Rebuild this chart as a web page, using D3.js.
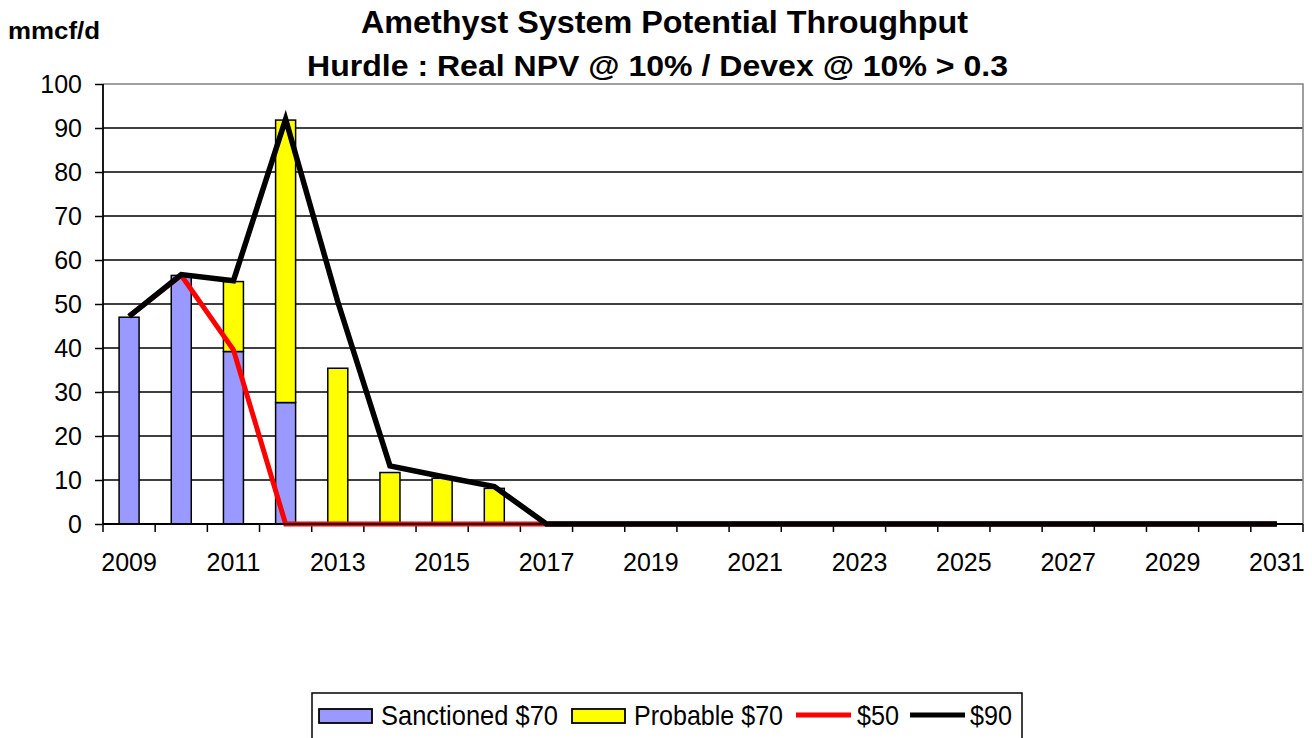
<!DOCTYPE html>
<html>
<head>
<meta charset="utf-8">
<script src="https://cdn.jsdelivr.net/npm/d3@7"></script>
<style>
  html, body { margin: 0; padding: 0; background: #fff; }
  svg { display: block; font-family: Arial, "Liberation Sans", sans-serif; }
</style>
</head>
<body>
<svg id="chart" width="1312" height="738"></svg>
<script>
const years = ["2009","2010","2011","2012","2013","2014","2015","2016","2017","2018","2019","2020","2021","2022","2023","2024","2025","2026","2027","2028","2029","2030","2031"];
const sanctioned70 = [47, 56.5, 39.2, 27.6, 0, 0, 0, 0, 0, 0, 0, 0, 0, 0, 0, 0, 0, 0, 0, 0, 0, 0, 0];
const probable70   = [0, 0, 15.9, 64.2, 35.4, 11.7, 10.4, 8.1, 0, 0, 0, 0, 0, 0, 0, 0, 0, 0, 0, 0, 0, 0, 0];
const price50      = [47.2, 56.5, 39.6, 0, 0, 0, 0, 0, 0, 0, 0, 0, 0, 0, 0, 0, 0, 0, 0, 0, 0, 0, 0];
const price90      = [47.2, 56.7, 55.3, 92, 50.5, 13.2, 10.8, 8.5, 0, 0, 0, 0, 0, 0, 0, 0, 0, 0, 0, 0, 0, 0, 0];
const yTicks = [0, 10, 20, 30, 40, 50, 60, 70, 80, 90, 100];
const xTickLabels = ["2009","2011","2013","2015","2017","2019","2021","2023","2025","2027","2029","2031"];
const seriesNames = ["Sanctioned $70", "Probable $70", "$50", "$90"];
const titleLines = ["Amethyst System Potential Throughput", "Hurdle : Real NPV @ 10% / Devex @ 10% > 0.3"];
const yUnit = "mmcf/d";

const svg = d3.select("#chart");
const L = 103, R = 1303, T = 84, B = 524;

const x = d3.scaleBand().domain(years).range([L, R]).paddingInner(0).paddingOuter(0);
const y = d3.scaleLinear().domain([0, 100]).range([B, T]);
const barW = 20;

// gridlines
svg.append("g").selectAll("line").data(yTicks.filter(v => v > 0 && v < 100)).join("line")
  .attr("x1", L).attr("x2", R).attr("y1", d => y(d)).attr("y2", d => y(d))
  .attr("stroke", "#000").attr("stroke-width", 1.5);

// plot border (top/right grey)
svg.append("path")
  .attr("d", `M${L},${T}H${R}V${B}`)
  .attr("fill", "none").attr("stroke", "#808080").attr("stroke-width", 1.5);

// stacked bars
const stack = years.map((yr, i) => ({ yr, s: sanctioned70[i], p: probable70[i] }));
const gBars = svg.append("g");
gBars.selectAll("rect.s").data(stack.filter(d => d.s > 0)).join("rect")
  .attr("class", "s")
  .attr("x", d => x(d.yr) + x.bandwidth() / 2 - barW / 2)
  .attr("width", barW)
  .attr("y", d => y(d.s))
  .attr("height", d => y(0) - y(d.s))
  .attr("fill", "#9999FF").attr("stroke", "#000").attr("stroke-width", 1.5);
gBars.selectAll("rect.p").data(stack.filter(d => d.p > 0)).join("rect")
  .attr("class", "p")
  .attr("x", d => x(d.yr) + x.bandwidth() / 2 - barW / 2)
  .attr("width", barW)
  .attr("y", d => y(d.s + d.p))
  .attr("height", d => y(d.s) - y(d.s + d.p))
  .attr("fill", "#FFFF00").attr("stroke", "#000").attr("stroke-width", 1.5);

// axes
const xAxis = d3.axisBottom(x).tickSize(0).tickFormat(d => xTickLabels.includes(d) ? d : "");
const gx = svg.append("g").attr("transform", `translate(0,${B})`).call(xAxis);
gx.select(".domain").remove();
gx.selectAll("text").attr("font-size", 25).attr("fill", "#000").attr("dy", null).attr("y", 47)
  .attr("font-family", "Arial, 'Liberation Sans', sans-serif");
// ticks between categories
const boundaries = years.map(d => x(d)).concat([x(years[years.length - 1]) + x.bandwidth()]);
svg.append("g").selectAll("line").data(boundaries).join("line")
  .attr("x1", d => d).attr("x2", d => d).attr("y1", B).attr("y2", B + 8)
  .attr("stroke", "#000").attr("stroke-width", 1.5);

const yAxis = d3.axisLeft(y).tickValues(yTicks).tickSize(8).tickPadding(13);
const gy = svg.append("g").attr("transform", `translate(${L},0)`).call(yAxis);
gy.select(".domain").remove();
gy.selectAll(".tick line").attr("stroke", "#000").attr("stroke-width", 1.5);
gy.selectAll("text").attr("font-size", 25).attr("fill", "#000")
  .attr("font-family", "Arial, 'Liberation Sans', sans-serif").attr("dy", "0.35em");

// lines
const lineGen = d3.line().x((d, i) => x(years[i]) + x.bandwidth() / 2).y(d => y(d));
svg.append("path").datum(price50).attr("d", lineGen)
  .attr("fill", "none").attr("stroke", "#FF0000").attr("stroke-width", 5).attr("stroke-linejoin", "miter");
svg.append("path").datum(price90).attr("d", lineGen)
  .attr("fill", "none").attr("stroke", "#000").attr("stroke-width", 5.5).attr("stroke-linejoin", "miter");

// axis lines
svg.append("line").attr("x1", L).attr("x2", L).attr("y1", T).attr("y2", B).attr("stroke", "#000").attr("stroke-width", 1.8);
svg.append("line").attr("x1", L).attr("x2", R).attr("y1", B).attr("y2", B).attr("stroke", "#000").attr("stroke-width", 1.8);

// titles
svg.append("text").attr("x", 361).attr("y", 33).text(titleLines[0])
  .attr("font-size", 31).attr("font-weight", "bold").attr("textLength", 607).attr("lengthAdjust", "spacingAndGlyphs");
svg.append("text").attr("x", 307).attr("y", 76).text(titleLines[1])
  .attr("font-size", 29).attr("font-weight", "bold").attr("textLength", 701).attr("lengthAdjust", "spacingAndGlyphs");
svg.append("text").attr("x", 8).attr("y", 39).text(yUnit)
  .attr("font-size", 23).attr("font-weight", "bold").attr("textLength", 92).attr("lengthAdjust", "spacingAndGlyphs");

// legend
const lg = svg.append("g");
lg.append("rect").attr("x", 312).attr("y", 693).attr("width", 710).attr("height", 60)
  .attr("fill", "#fff").attr("stroke", "#000").attr("stroke-width", 1.5);
const legX = [319, 572, 796, 910];
const legTextX = [381, 634, 857, 970];
const legTextLen = [177, 149, 42, 42];
const legFill = ["#9999FF", "#FFFF00", "#FF0000", "#000"];
seriesNames.forEach((name, i) => {
  if (i < 2) {
    lg.append("rect").attr("x", legX[i]).attr("y", 709).attr("width", 53).attr("height", 14)
      .attr("fill", legFill[i]).attr("stroke", "#000").attr("stroke-width", 1.8);
  } else {
    lg.append("line").attr("x1", legX[i]).attr("x2", legX[i] + 55).attr("y1", 715).attr("y2", 715)
      .attr("stroke", legFill[i]).attr("stroke-width", 5);
  }
  lg.append("text").attr("x", legTextX[i]).attr("y", 725).text(name)
    .attr("font-size", 28).attr("textLength", legTextLen[i]).attr("lengthAdjust", "spacingAndGlyphs");
});
</script>
</body>
</html>
